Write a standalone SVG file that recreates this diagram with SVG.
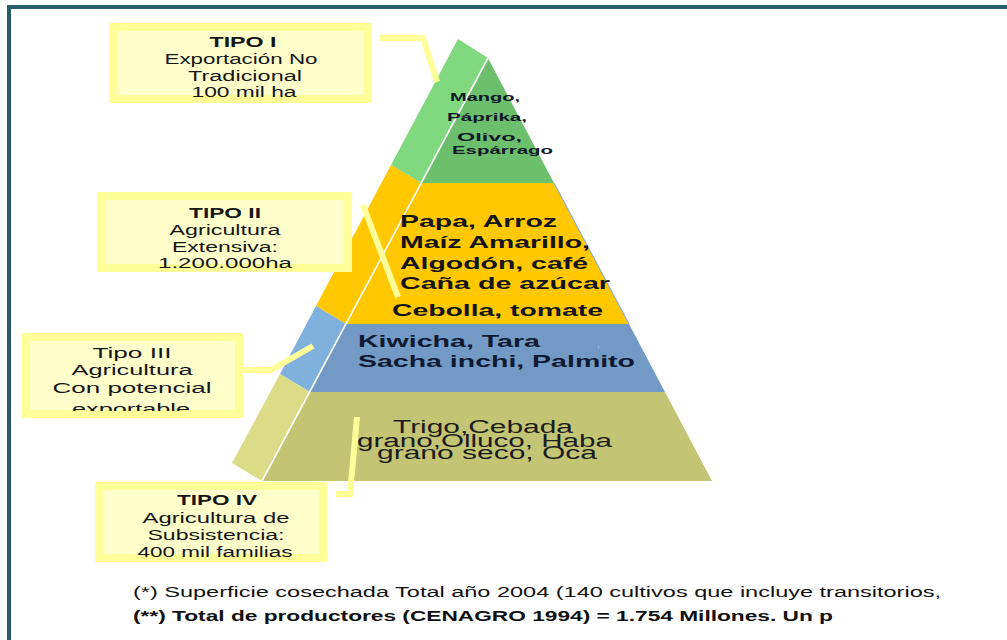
<svg xmlns="http://www.w3.org/2000/svg" width="1007" height="640" viewBox="0 0 1007 640">
<style>
text{font-family:"Liberation Sans",Arial,sans-serif;fill:#161616}
.box{fill:#ffffcc;stroke:#ffff99;stroke-width:8}
.bt{font-size:14px;text-anchor:middle}
.b{font-weight:bold}
.conn{fill:none;stroke:#ffff99;stroke-width:6;stroke-linejoin:miter}
.g{font-size:11.5px;font-weight:bold;fill:#101828}
.y{font-size:17px;font-weight:bold;fill:#141414}
.bl{font-size:17px;font-weight:bold;fill:#0e1a34}
.o{font-size:18px;fill:#1c1c1c}
.fn{font-size:14px;fill:#111}
</style>
<defs>
<clipPath id="c3"><rect x="26" y="337" width="213" height="74"/></clipPath>
</defs>
<rect x="0" y="0" width="1007" height="640" fill="#ffffff"/>
<path d="M9,640 V7 H1007" fill="none" stroke="#2a5d6e" stroke-width="4"/>

<g id="pyramid">
<polygon points="458,39 488,58 421,183 391,165" fill="#80d97f"/>
<polygon points="391,165 421,183 346,324 316,306" fill="#ffc800"/>
<polygon points="316,306 346,324 310,392 280,374" fill="#80b0dc"/>
<polygon points="280,374 310,392 262,481 232,463" fill="#dcdc88"/>
<polygon points="488,58 554,183 421,183" fill="#6cbf6c"/>
<polygon points="421,183 554,183 629,324 346,324" fill="#ffc800"/>
<polygon points="346,324 629,324 665,392 310,392" fill="#7399c5"/>
<polygon points="310,392 665,392 712,481 262,481" fill="#c4c475"/>
<line x1="554" y1="183" x2="629" y2="324" stroke="#8fb0d8" stroke-width="1.2"/>
<line x1="488" y1="58" x2="262" y2="481" stroke="#ffffff" stroke-width="1.6"/>
</g>

<g id="connectors">
<polyline class="conn" points="380,38 423,38 437,82"/>
<line class="conn" x1="363" y1="205" x2="398" y2="297" stroke-width="7"/>
<polyline class="conn" points="241,370 271,370 313,346"/>
<polyline class="conn" points="357,417 350,494 336,494"/>
</g>

<g id="layer-tipo1">
<text class="g" x="450" y="101" textLength="70" lengthAdjust="spacingAndGlyphs">Mango,</text>
<text class="g" x="447" y="121" textLength="80" lengthAdjust="spacingAndGlyphs">Páprika,</text>
<text class="g" x="457" y="141" textLength="65" lengthAdjust="spacingAndGlyphs">Olivo,</text>
<text class="g" x="452" y="154" textLength="101" lengthAdjust="spacingAndGlyphs">Espárrago</text>
</g>
<g id="layer-tipo2">
<text class="y" x="400" y="227" textLength="157" lengthAdjust="spacingAndGlyphs">Papa, Arroz</text>
<text class="y" x="400" y="248" textLength="190" lengthAdjust="spacingAndGlyphs">Maíz Amarillo,</text>
<text class="y" x="400" y="269" textLength="188" lengthAdjust="spacingAndGlyphs">Algodón, café</text>
<text class="y" x="400" y="289" textLength="210" lengthAdjust="spacingAndGlyphs">Caña de azúcar</text>
<text class="y" x="392" y="316" textLength="211" lengthAdjust="spacingAndGlyphs">Cebolla, tomate</text>
</g>
<g id="layer-tipo3">
<text class="bl" x="358" y="347" textLength="182" lengthAdjust="spacingAndGlyphs">Kiwicha, Tara</text>
<text class="bl" x="358" y="367" textLength="277" lengthAdjust="spacingAndGlyphs">Sacha inchi, Palmito</text>
<text x="597" y="347" style="font-size:10px;fill:#b4c4da">,</text>
</g>
<g id="layer-tipo4">
<text class="o" x="393" y="433" textLength="180" lengthAdjust="spacingAndGlyphs">Trigo,Cebada</text>
<text class="o" x="357" y="447" textLength="255" lengthAdjust="spacingAndGlyphs">grano,Olluco, Haba</text>
<text class="o" x="377" y="459" textLength="220" lengthAdjust="spacingAndGlyphs">grano seco, Oca</text>
</g>

<g id="box-tipo1">
<rect class="box" x="113" y="27" width="255" height="72"/>
<text class="bt b" x="243" y="47" textLength="67" lengthAdjust="spacingAndGlyphs">TIPO I</text>
<text class="bt" x="241" y="64" textLength="153" lengthAdjust="spacingAndGlyphs">Exportación No</text>
<text class="bt" x="245" y="81" textLength="114" lengthAdjust="spacingAndGlyphs">Tradicional</text>
<text class="bt" x="244" y="97" textLength="105" lengthAdjust="spacingAndGlyphs">100 mil ha</text>
</g>
<g id="box-tipo2">
<rect class="box" x="101" y="196" width="247" height="72"/>
<text class="bt b" x="225" y="218" textLength="72" lengthAdjust="spacingAndGlyphs">TIPO II</text>
<text class="bt" x="225" y="235" textLength="111" lengthAdjust="spacingAndGlyphs">Agricultura</text>
<text class="bt" x="225" y="252" textLength="106" lengthAdjust="spacingAndGlyphs">Extensiva:</text>
<text class="bt" x="225" y="268" textLength="134" lengthAdjust="spacingAndGlyphs">1.200.000ha</text>
</g>
<g id="box-tipo3">
<rect class="box" x="26" y="337" width="213" height="77"/>
<g clip-path="url(#c3)">
<text class="bt" x="132" y="358" textLength="79" lengthAdjust="spacingAndGlyphs">Tipo III</text>
<text class="bt" x="132" y="375" textLength="121" lengthAdjust="spacingAndGlyphs">Agricultura</text>
<text class="bt" x="132" y="393" textLength="159" lengthAdjust="spacingAndGlyphs">Con potencial</text>
<text class="bt" x="131" y="414" textLength="118" lengthAdjust="spacingAndGlyphs">exportable</text>
</g>
</g>
<g id="box-tipo4">
<rect class="box" x="99" y="486" width="224" height="72"/>
<text class="bt b" x="217" y="505" textLength="80" lengthAdjust="spacingAndGlyphs">TIPO IV</text>
<text class="bt" x="216" y="523" textLength="147" lengthAdjust="spacingAndGlyphs">Agricultura de</text>
<text class="bt" x="216" y="540" textLength="137" lengthAdjust="spacingAndGlyphs">Subsistencia:</text>
<text class="bt" x="215" y="557" textLength="155" lengthAdjust="spacingAndGlyphs">400 mil familias</text>
</g>

<g id="footnotes">
<text class="fn" x="133" y="597" textLength="808" lengthAdjust="spacingAndGlyphs">(*) Superficie cosechada Total año 2004 (140 cultivos que incluye transitorios,</text>
<text class="fn b" x="133" y="621" textLength="700" lengthAdjust="spacingAndGlyphs">(**) Total de productores (CENAGRO 1994) = 1.754 Millones.  Un p</text>
</g>
</svg>
